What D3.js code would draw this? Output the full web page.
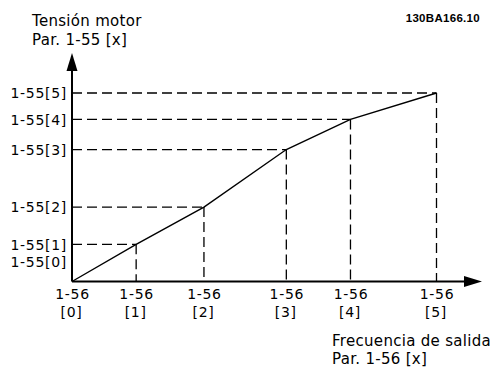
<!DOCTYPE html>
<html><head><meta charset="utf-8">
<script src="https://cdn.jsdelivr.net/npm/d3@7/dist/d3.min.js"></script>
<style>body{margin:0;background:#fff}svg{display:block}</style>
</head><body>
<script>
const freqLabels = ["[0]","[1]","[2]","[3]","[4]","[5]"];
const voltLabels = ["1-55[0]","1-55[1]","1-55[2]","1-55[3]","1-55[4]","1-55[5]"];
const freq = [0, 8.8, 18.1, 29.4, 38.2, 50];
const volt = [0, 19.7, 39.5, 70, 86, 100];

const W = 490, H = 367;
const svg = d3.select("body").append("svg").attr("width", W).attr("height", H);
const x = d3.scaleLinear().domain([0, 50]).range([72, 436.5]);
const y = d3.scaleLinear().domain([0, 100]).range([281.5, 93]);
const font = "DejaVu Sans, Verdana, sans-serif";

// dashed guides
for (let i = 1; i < freq.length; i++) {
  svg.append("line").attr("x1", x(0)).attr("x2", x(freq[i])).attr("y1", y(volt[i])).attr("y2", y(volt[i]))
    .attr("stroke", "#000").attr("stroke-width", 1.3).attr("stroke-dasharray", "10,5");
  svg.append("line").attr("x1", x(freq[i])).attr("x2", x(freq[i])).attr("y1", y(volt[i])).attr("y2", y(0))
    .attr("stroke", "#000").attr("stroke-width", 1.3).attr("stroke-dasharray", "10,5");
}
// curve
svg.append("path").datum(freq.map((f, i) => [f, volt[i]]))
  .attr("d", d3.line().x(d => x(d[0])).y(d => y(d[1])))
  .attr("fill", "none").attr("stroke", "#000").attr("stroke-width", 1.4);

// axes
svg.append("line").attr("x1", x(0)).attr("x2", 466).attr("y1", y(0)).attr("y2", y(0)).attr("stroke", "#000").attr("stroke-width", 2);
svg.append("path").attr("d", `M482,${y(0)} L464,${y(0)-5.5} L464,${y(0)+5.5} Z`).attr("fill", "#000");
svg.append("line").attr("x1", x(0)).attr("x2", x(0)).attr("y1", y(0)).attr("y2", 70).attr("stroke", "#000").attr("stroke-width", 2);
svg.append("path").attr("d", `M${x(0)},53 L${x(0)-5.5},71 L${x(0)+5.5},71 Z`).attr("fill", "#000");

// y labels
voltLabels.forEach((t, i) => {
  const yy = i === 0 ? 261.5 : y(volt[i]);
  svg.append("text").attr("x", 67).attr("y", yy).attr("dy", "0.38em").attr("text-anchor", "end")
    .attr("font-family", font).attr("font-size", 14).attr("letter-spacing", 0.7).text(t);
});
// x labels
freqLabels.forEach((t, i) => {
  const g = svg.append("text").attr("font-family", font).attr("font-size", 14).attr("letter-spacing", 0.7).attr("text-anchor", "middle");
  g.append("tspan").attr("x", x(freq[i]) + 0.5).attr("y", 299).text("1-56");
  g.append("tspan").attr("x", x(freq[i]) - 0.5).attr("y", 316.5).text(t);
});
// titles
const tt = svg.append("text").attr("font-family", font).attr("font-size", 15).attr("letter-spacing", 0.3);
tt.append("tspan").attr("x", 32).attr("y", 25.5).text("Tensión motor");
tt.append("tspan").attr("x", 32).attr("y", 45).text("Par. 1-55 [x]");
const bt = svg.append("text").attr("font-family", font).attr("font-size", 15).attr("letter-spacing", 0.3);
bt.append("tspan").attr("x", 332).attr("y", 346).text("Frecuencia de salida");
bt.append("tspan").attr("x", 332).attr("y", 364).text("Par. 1-56 [x]");
svg.append("text").attr("x", 480).attr("y", 21.5).attr("text-anchor", "end")
  .attr("font-family", "Liberation Sans, Arial, sans-serif").attr("font-size", 11.5).attr("font-weight", "bold")
  .attr("letter-spacing", 0.3).text("130BA166.10");
</script>
</body></html>
